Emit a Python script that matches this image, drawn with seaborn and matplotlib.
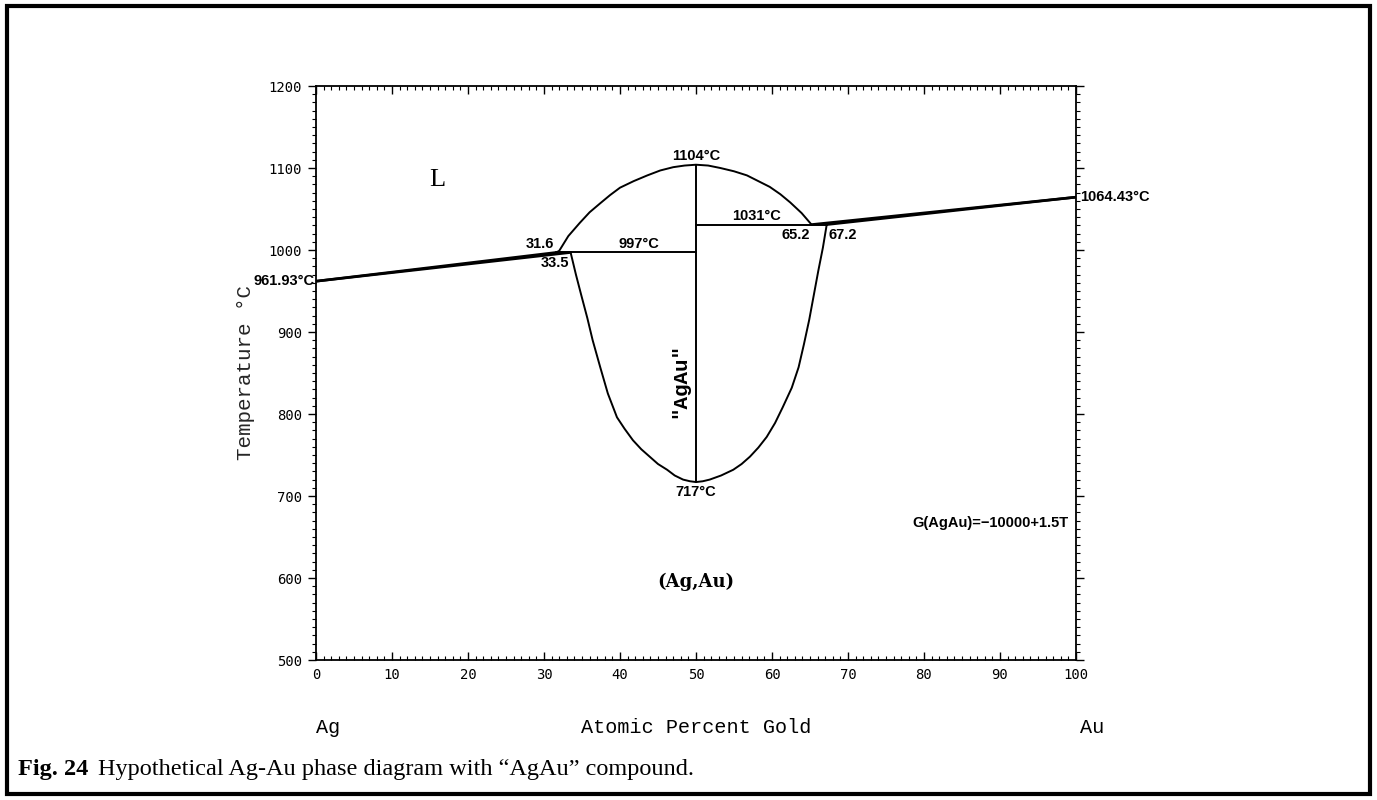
import matplotlib
matplotlib.use("Agg")
import matplotlib.pyplot as plt
import seaborn as sns
from matplotlib.patches import Rectangle
from matplotlib.ticker import MultipleLocator

# ---- data (composition in at.% Au, temperature in °C) ----
liq_left_x = [0, 31.6]
liq_left_T = [961.93, 997]
sol_left_x = [0, 33.5]
sol_left_T = [961.93, 997]
per_left_x = [31.6, 50]
per_left_T = [997, 997]
compound_x = [50, 50]
compound_T = [717, 1104]
dome_x = [31.6, 32.0, 33.2, 34.7, 36.0, 37.4, 38.7, 40.0, 41.8, 43.6, 45.3, 47.0, 48.5, 50,
          51.6, 53.2, 55.0, 56.7, 58.2, 59.7, 61.1, 62.4, 63.9, 65.2]
dome_T = [997, 999, 1017, 1033, 1046, 1057, 1067, 1076, 1084, 1091, 1097, 1101, 1103, 1104,
          1103, 1100, 1096, 1091, 1084, 1077, 1068, 1058, 1045, 1031]
per_right_x = [50, 67.2]
per_right_T = [1031, 1031]
liq_right_x = [65.2, 100]
liq_right_T = [1031, 1064.43]
sol_right_x = [67.2, 100]
sol_right_T = [1031, 1064.43]
loop_x = [33.5, 34.2, 34.9, 35.7, 36.4, 37.4, 38.4, 39.6, 40.6, 41.7, 42.8, 43.9, 45.0, 46.2,
          47.2, 48.3, 49.2, 50, 50.9, 51.8, 53.3, 54.9, 56.0, 57.1, 58.2, 59.3, 60.4, 61.4,
          62.6, 63.5, 64.2, 64.9, 65.5, 66.1, 66.7, 67.2]
loop_T = [997, 970, 945, 917, 890, 857, 825, 796, 782, 768, 757, 748, 739, 732,
          725, 720, 718, 717, 718, 720, 725, 732, 739, 748, 759, 772, 789, 808,
          832, 857, 885, 915, 945, 975, 1003, 1031]

x_ticks = [0, 10, 20, 30, 40, 50, 60, 70, 80, 90, 100]
y_ticks = [500, 600, 700, 800, 900, 1000, 1100, 1200]

sns.set_theme(style="ticks")
plt.rcParams['font.family'] = ['DejaVu Sans']

fig = plt.figure(figsize=(13.77, 8.0), dpi=100)
ax = fig.add_axes([0.2295, 0.175, 0.5519, 0.7175])

thin = dict(color="black", lw=1.4, sort=False, estimator=None, legend=False)
thick = dict(color="black", lw=1.9, sort=False, estimator=None, legend=False)
sns.lineplot(x=liq_left_x, y=liq_left_T, ax=ax, **thick)
sns.lineplot(x=sol_left_x, y=sol_left_T, ax=ax, **thick)
sns.lineplot(x=per_left_x, y=per_left_T, ax=ax, **thin)
sns.lineplot(x=compound_x, y=compound_T, ax=ax, **thin)
sns.lineplot(x=dome_x, y=dome_T, ax=ax, **thin)
sns.lineplot(x=per_right_x, y=per_right_T, ax=ax, **thin)
sns.lineplot(x=liq_right_x, y=liq_right_T, ax=ax, **thick)
sns.lineplot(x=sol_right_x, y=sol_right_T, ax=ax, **thick)
sns.lineplot(x=loop_x, y=loop_T, ax=ax, **thin)

ax.set_xlim(0, 100)
ax.set_ylim(500, 1200)
ax.set_xticks(x_ticks)
ax.set_yticks(y_ticks)
ax.xaxis.set_minor_locator(MultipleLocator(1))
ax.yaxis.set_minor_locator(MultipleLocator(10))
for s in ax.spines.values():
    s.set_linewidth(1.3)
    s.set_color("black")
ax.tick_params(axis="both", which="major", length=6, width=1, colors="black",
               labelsize=10, top=True, right=True, direction="in")
ax.tick_params(axis="both", which="minor", length=3, width=0.8, colors="black",
               top=True, right=True, direction="in")
ax.tick_params(axis="y", which="both", left=True, right=True, direction="out")
ax.tick_params(axis="y", which="major", pad=4)
ax.tick_params(axis="x", which="major", pad=6)
for lab in ax.get_xticklabels() + ax.get_yticklabels():
    lab.set_family("DejaVu Sans Mono")

ax.set_xlabel("")
ax.set_ylabel("Temperature °C", family="Liberation Mono", fontsize=15, labelpad=10)

mono = dict(family="Liberation Mono", fontsize=14.5, color="black")
ax.text(0, -0.117, "Ag", transform=ax.transAxes, ha="left", va="center", **mono)
ax.text(0.5, -0.117, "Atomic Percent Gold", transform=ax.transAxes, ha="center", va="center", **mono)
ax.text(1.005, -0.117, "Au", transform=ax.transAxes, ha="left", va="center", **mono)

ann = dict(family="Liberation Sans", fontsize=10.5, color="black", fontweight="bold")
ax.text(-0.2, 961.93, "961.93°C", ha="right", va="center", **ann)
ax.text(100.5, 1064.43, "1064.43°C", ha="left", va="center", **ann)
ax.text(31.3, 999, "31.6", ha="right", va="bottom", **ann)
ax.text(33.3, 993, "33.5", ha="right", va="top", **ann)
ax.text(42.5, 999, "997°C", ha="center", va="bottom", **ann)
ax.text(50, 1106, "1104°C", ha="center", va="bottom", **ann)
ax.text(58, 1033, "1031°C", ha="center", va="bottom", **ann)
ax.text(65.0, 1027, "65.2", ha="right", va="top", **ann)
ax.text(67.4, 1027, "67.2", ha="left", va="top", **ann)
ax.text(50, 713, "717°C", ha="center", va="top", **ann)
ax.text(99, 667, "G(AgAu)=−10000+1.5T", ha="right", va="center", **ann)

ax.text(47.9, 841, '"AgAu"', rotation=90, ha="center", va="center",
        family="Liberation Mono", fontsize=15, fontweight="bold", color="black")
ax.text(16, 1085, "L", ha="center", va="center", family="Liberation Serif",
        fontsize=19, color="black")
ax.text(50, 595, "(Ag,Au)", ha="center", va="center", family="DejaVu Serif",
        fontsize=13, fontweight="bold", color="black")

# outer frame
fig.patches.append(Rectangle((0.005, 0.008), 0.99, 0.985, transform=fig.transFigure,
                             fill=False, edgecolor="black", lw=3))

# caption
cap_y = 1 - 770 / 800
t1 = fig.text(0.013, cap_y, "Fig. 24", family="Liberation Serif", fontweight="bold",
              fontsize=17.5, ha="left", va="center", color="black")
fig.canvas.draw()
bb = t1.get_window_extent(renderer=fig.canvas.get_renderer())
x2 = (bb.x1 + 10) / fig.bbox.width
fig.text(x2, cap_y, "Hypothetical Ag-Au phase diagram with \u201cAgAu\u201d compound.",
         family="Liberation Serif", fontsize=17.5, ha="left", va="center", color="black")

fig.savefig("out.png", dpi=100, facecolor="white")
